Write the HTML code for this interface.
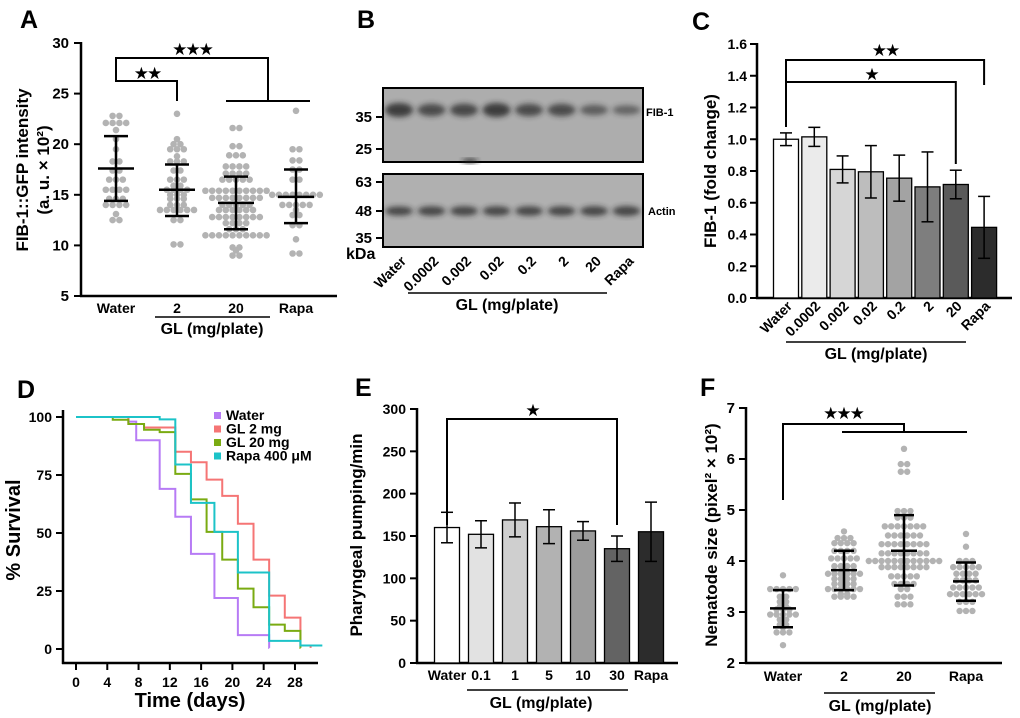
<!DOCTYPE html>
<html><head><meta charset="utf-8"><style>
html,body{margin:0;padding:0;background:#fff}
svg{display:block;font-family:"Liberation Sans",sans-serif;font-weight:bold}
</style></head><body>
<svg id="fig" width="1020" height="718" viewBox="0 0 1020 718" xmlns="http://www.w3.org/2000/svg">
<defs><filter id="blur" x="-20%" y="-50%" width="140%" height="200%"><feGaussianBlur stdDeviation="2.6"/></filter></defs>
</svg>
<script>
// ---------- Panel A data ----------
const aCats=["Water","2","20","Rapa"];
const aWater=[22.8,22.8,22.1,22.1,22.1,22.1,21.4,20.5,19.5,18.3,18.3,17.4,17.4,16.5,16.5,16.5,15.5,15.5,15.5,15.5,14.6,14.6,14.6,14.0,14.0,14.0,14.0,13.1,12.5,12.5];
const aGL2=[23,20.5,20,20,19.5,19.5,19.5,18.8,18.3,18.3,18.3,17.4,17.4,16.5,16.5,16.5,15.9,15.9,15.5,15.5,15.5,15.5,15,15,15,14.6,14.6,14.6,14,14,14,13.5,13.5,13.5,13.5,13.5,13.5,12.5,12.5,10.1,10.1];
const aGL20=[21.6,21.6,19.8,19.8,18.9,18.9,18.9,17.8,17.8,17.8,17.8,17.1,17.1,17.1,17.1,16.5,16.5,16.5,16.5,16.5,15.4,15.4,15.4,15.4,15.4,15.4,15.4,15.4,15.4,15.4,14.7,14.7,14.7,14.7,14.7,14.7,14.7,14.7,14,14,14,14,14,13.5,13.5,13.5,13.5,13.5,13.5,12.8,12.8,12.8,12.8,12.8,12.8,12.8,12.8,12.2,12.2,12.2,12.2,11.6,11.6,11.6,11,11,11,11,11,11,11,11,11,11,9.8,9.8,9.5,9,9];
const aRapa=[23.3,19.5,19.5,18.4,18.4,17.5,17.5,16.5,16.5,15,15,15,15,15,15,15,15,14,14,14,14,14,13.5,13,13,12,12,10.6,9.2,9.2];
const aMean=[17.6,15.5,14.2,14.8];
const aLo=[14.4,12.9,11.6,12.2];
const aHi=[20.8,18.0,16.8,17.5];
const aTicks=[5,10,15,20,25,30];
// ---------- Panel C data ----------
const cCats=["Water","0.0002","0.002","0.02","0.2","2","20","Rapa"];
const cVals=[1.0,1.015,0.81,0.795,0.755,0.70,0.715,0.445];
const cErr=[0.04,0.06,0.085,0.165,0.145,0.22,0.09,0.195];
const cTicks=[0,0.2,0.4,0.6,0.8,1.0,1.2,1.4,1.6];
// ---------- Panel D data ----------
const dSeries=["Water","GL 2 mg","GL 20 mg","Rapa 400 μM"];
const dWaterT=[0,6.7,7.7,10.7,12.7,14.7,17.7,20.7,24.7];
const dWaterS=[100,98,90,69,57,41,22,6,0.5];
const dGL2T=[0,6.7,8.7,12.7,14.7,16.7,18.7,20.7,22.7,24.7,26.7,28.7,30];
const dGL2S=[100,97,95.5,85,80.5,73,66,54,38.5,23,13.5,1.5,0.5];
const dGL20T=[0,4.7,6.7,8.7,10.7,12.7,14.7,16.7,18.7,20.7,22.7,24.7,26.7,28.7];
const dGL20S=[100,98.8,97,94.5,93.5,75.5,64.5,50.5,38.5,26,18,10.5,7.8,0.5];
const dRapaT=[0,10.7,12.7,14.7,17.7,20.7,24.7,28.7,31.5];
const dRapaS=[100,99,79.5,63,50.5,33,3.5,1.5,1.5];
const dXTicks=[0,4,8,12,16,20,24,28];
const dYTicks=[0,25,50,75,100];
// ---------- Panel E data ----------
const eCats=["Water","0.1","1","5","10","30","Rapa"];
const eVals=[160,152,169,161,156,135,155];
const eErr=[18,16,20,20,11,15,35];
const eTicks=[0,50,100,150,200,250,300];
// ---------- Panel F data ----------
const fCats=["Water","2","20","Rapa"];
const fWater=[3.72,3.45,3.45,3.45,3.45,3.45,3.3,3.3,3.2,3.2,3.1,3.1,3.05,3.05,3.05,2.95,2.95,2.95,2.95,2.95,2.85,2.85,2.75,2.75,2.7,2.6,2.6,2.6,2.35];
const fGL2=[4.58,4.45,4.45,4.45,4.35,4.35,4.35,4.35,4.2,4.2,4.2,4.2,4.05,4.05,4.05,4.05,4.05,3.9,3.9,3.9,3.9,3.75,3.75,3.75,3.75,3.75,3.75,3.65,3.65,3.65,3.65,3.55,3.55,3.55,3.55,3.45,3.45,3.45,3.45,3.45,3.45,3.35,3.35,3.3,3.3,3.3,3.3];
const fGL20=[6.2,5.9,5.9,5.75,5.75,4.98,4.98,4.98,4.85,4.85,4.85,4.68,4.68,4.68,4.68,4.68,4.68,4.68,4.5,4.5,4.5,4.5,4.5,4.5,4.33,4.33,4.33,4.33,4.33,4.33,4.33,4.33,4.15,4.15,4.15,4.15,4.15,4.15,4.15,4.15,4.0,4.0,4.0,4.0,4.0,4.0,4.0,4.0,4.0,4.0,4.0,4.0,3.88,3.88,3.88,3.88,3.88,3.88,3.88,3.88,3.7,3.7,3.7,3.7,3.7,3.55,3.55,3.55,3.55,3.45,3.45,3.3,3.3,3.3,3.15,3.15,3.15];
const fRapa=[4.53,4.28,4.0,4.0,4.0,3.88,3.88,3.88,3.88,3.88,3.75,3.75,3.75,3.75,3.62,3.62,3.62,3.62,3.48,3.48,3.48,3.48,3.48,3.35,3.35,3.35,3.35,3.35,3.35,3.2,3.2,3.2,3.02,3.02,3.02];
const fMean=[3.07,3.82,4.2,3.6];
const fLo=[2.7,3.43,3.52,3.22];
const fHi=[3.43,4.2,4.9,3.97];
const fTicks=[2,3,4,5,6,7];
// ---------- Panel B lanes ----------
const bLanes=["Water","0.0002","0.002","0.02","0.2","2","20","Rapa"];
const bFib=[1.0,0.8,0.85,1.0,0.8,0.8,0.55,0.45];
const bActin=[0.85,0.9,0.9,0.9,0.9,0.9,0.95,1.0];

const NS="http://www.w3.org/2000/svg";
const svg=document.getElementById('fig');
function mk(tag,attrs,name,parent){
  const el=document.createElementNS(NS,tag);
  for(const k in attrs) el.setAttribute(k,attrs[k]);
  
  
  (parent||svg).appendChild(el);return el;
}
function ln(x1,y1,x2,y2,w,name,col){return mk('line',{x1,y1,x2,y2,stroke:col||'#000','stroke-width':w||2},name);}
function tx(x,y,s,size,anchor,name,extra){const t=mk('text',Object.assign({x,y,'font-size':size,'text-anchor':anchor||'middle',fill:'#000'},extra||{}),name);t.textContent=s;return t;}
function star(x,y,s,name){return tx(x,y,s,17,'middle',name,{'font-family':'DejaVu Sans','letter-spacing':'-2'});}
function poly(pts,w,name,col){return mk('polyline',{points:pts.map(p=>p.join(',')).join(' '),fill:'none',stroke:col||'#000','stroke-width':w||2},name);}

// ===== Panel A =====
tx(20,28,"A",25,'start','panel-label-a');
const aY=v=>296-(v-5)*(253/25);
const aX=[116,177,236,296];
ln(81,42,81,297,2.5,'a-y-axis');ln(80,296,337,296,2.5,'a-x-axis');
aTicks.forEach(t=>{ln(74,aY(t),81,aY(t),2,'a-y-tick');tx(69,aY(t)+5,String(t),15,'end','a-y-tick-label');});
aCats.forEach((c,i)=>tx(aX[i],313,c,14,'middle','a-x-label'));
ln(155,317,270,317,1.5,'a-gl-line');tx(212,334,"GL (mg/plate)",16,'middle','a-gl-label');
tx(28,170,"FIB-1::GFP intensity",17,'middle','a-y-title',{transform:'rotate(-90 28 170)'});
tx(49,170,"(a. u. × 10²)",17,'middle','a-y-title-2',{transform:'rotate(-90 49 170)'});
function swarm(vals,cx,yf,sp,r,name){
  const groups={};vals.forEach(v=>{const k=Math.round(yf(v));(groups[k]=groups[k]||[]).push(v);});
  for(const k in groups){const n=groups[k].length;groups[k].forEach((v,j)=>{
    mk('circle',{cx:cx+(j-(n-1)/2)*sp,cy:yf(v),r:r,fill:'#b3b3b3'},name);});}
}
[aWater,aGL2,aGL20,aRapa].forEach((arr,i)=>swarm(arr,aX[i],aY,6.8,3.3,'a-dot-'+aCats[i].toLowerCase()));
aCats.forEach((c,i)=>{const x=aX[i];
  ln(x,aY(aLo[i]),x,aY(aHi[i]),2.5,'a-sd-bar');ln(x-18,aY(aMean[i]),x+18,aY(aMean[i]),2.5,'a-mean-line');
  ln(x-12,aY(aLo[i]),x+12,aY(aLo[i]),2.5,'a-sd-cap');ln(x-12,aY(aHi[i]),x+12,aY(aHi[i]),2.5,'a-sd-cap');});
poly([[116,80],[116,58],[268,58],[268,101]],2,'a-sig-bracket-3');ln(226,101,310,101,2,'a-sig-group-line');
poly([[116,80],[116,81],[177,81],[177,101]],2,'a-sig-bracket-2');ln(116,80,116,58,2,'a-sig-stem');
star(192,55,"★★★",'a-sig-stars-3');star(147,79,"★★",'a-sig-stars-2');

// ===== Panel B =====
tx(357,28,"B",25,'start','panel-label-b');
mk('rect',{x:383,y:88,width:260,height:74,fill:'#adadad',stroke:'#000','stroke-width':2},'b-blot-fib1');
mk('rect',{x:383,y:174,width:260,height:73,fill:'#b0b0b0',stroke:'#000','stroke-width':2},'b-blot-actin');
const bLx=i=>399+i*32.5;
bLanes.forEach((l,i)=>{
  mk('ellipse',{cx:bLx(i),cy:110,rx:14,ry:3+4*bFib[i],fill:'#222',opacity:0.3+0.5*bFib[i],filter:'url(#blur)'},'b-band-fib1');
  mk('ellipse',{cx:bLx(i),cy:211,rx:14,ry:2+3*bActin[i],fill:'#222',opacity:0.75,filter:'url(#blur)'},'b-band-actin');
  tx(bLx(i)+8,262,l,14,'end','b-lane-label',{transform:`rotate(-45 ${bLx(i)+8} 262)`});
});
mk('ellipse',{cx:470,cy:161,rx:8,ry:2,fill:'#222',filter:'url(#blur)'},'b-artifact');
[[35,117],[25,149],[63,182],[48,211],[35,238]].forEach(m=>{ln(376,m[1],383,m[1],2,'b-marker-tick');tx(372,m[1]+5,String(m[0]),15,'end','b-marker-label');});
tx(346,259,"kDa",16,'start','b-kda-label');
tx(646,116,"FIB-1",11,'start','b-fib1-label');tx(648,215,"Actin",11,'start','b-actin-label');
ln(408,293,607,293,1.5,'b-gl-line');tx(507,310,"GL (mg/plate)",16,'middle','b-gl-label');

// ===== Panel C =====
tx(692,30,"C",25,'start','panel-label-c');
const cY=v=>298-v*(254/1.6);const cX=i=>786+i*28.3;
ln(757,43,757,299,2.5,'c-y-axis');ln(756,298,1012,298,2.5,'c-x-axis');
cTicks.forEach(t=>{ln(750,cY(t),757,cY(t),2,'c-y-tick');tx(747,cY(t)+5,t.toFixed(1),14,'end','c-y-tick-label');});
tx(716,171,"FIB-1 (fold change)",17,'middle','c-y-title',{transform:'rotate(-90 716 171)'});
const cCol=['#ffffff','#ebebeb','#d6d6d6','#bdbdbd','#a3a3a3','#7e7e7e','#5a5a5a','#2c2c2c'];
cCats.forEach((c,i)=>{const x=cX(i);
  mk('rect',{x:x-12.5,y:cY(cVals[i]),width:25,height:298-cY(cVals[i]),fill:cCol[i],stroke:'#000','stroke-width':1.3},'c-bar-'+c);
  ln(x,cY(cVals[i]-cErr[i]),x,cY(cVals[i]+cErr[i]),1.5,'c-error-bar');
  ln(x-6,cY(cVals[i]-cErr[i]),x+6,cY(cVals[i]-cErr[i]),1.5,'c-error-cap');ln(x-6,cY(cVals[i]+cErr[i]),x+6,cY(cVals[i]+cErr[i]),1.5,'c-error-cap');
  tx(x+7,307,c,14,'end','c-x-label',{transform:`rotate(-45 ${x+7} 307)`});
});
poly([[cX(0),127],[cX(0),60],[cX(7),60],[cX(7),85]],2,'c-sig-bracket-rapa');
poly([[cX(0),82],[cX(6),82],[cX(6),164]],2,'c-sig-bracket-20');
star(885,56,"★★",'c-sig-stars-2');star(871,80,"★",'c-sig-star-1');
ln(786,342,966,342,1.5,'c-gl-line');tx(876,359,"GL (mg/plate)",16,'middle','c-gl-label');

// ===== Panel D =====
tx(17,398,"D",25,'start','panel-label-d');
const dX=t=>76+t*7.82;const dY=s=>649-s*2.32;
ln(63,410,63,664,2.5,'d-y-axis');ln(62,663,318,663,2.5,'d-x-axis');
dYTicks.forEach(t=>{ln(56,dY(t),63,dY(t),2,'d-y-tick');tx(52,dY(t)+5,String(t),14,'end','d-y-tick-label');});
dXTicks.forEach(t=>{ln(dX(t),663,dX(t),670,2,'d-x-tick');tx(dX(t),687,String(t),14,'middle','d-x-tick-label');});
tx(190,707,"Time (days)",20,'middle','d-x-title');
tx(20,530,"% Survival",20,'middle','d-y-title',{transform:'rotate(-90 20 530)'});
const dCol=['#b77bf5','#f57575','#7aab12','#1cc3c8'];
[[dWaterT,dWaterS],[dGL2T,dGL2S],[dGL20T,dGL20S],[dRapaT,dRapaS]].forEach((s,k)=>{
  const T=s[0],S=s[1];const pts=[];
  for(let i=0;i<T.length;i++){if(i>0)pts.push([dX(T[i]),dY(S[i-1])]);pts.push([dX(T[i]),dY(S[i])]);}
  if(T[T.length-1]<29)pts.push([dX(T[T.length-1])+0.1,dY(S[S.length-1])]);
  poly(pts,2,'d-curve-'+dSeries[k].split(' ')[0].toLowerCase()+k,dCol[k]);
});
dSeries.forEach((s,k)=>{mk('rect',{x:214,y:412+k*13.5,width:7,height:7,fill:dCol[k]},'d-legend-swatch');
  tx(226,420+k*13.5,s,14,'start','d-legend-entry');});

// ===== Panel E =====
tx(355,396,"E",25,'start','panel-label-e');
const eY=v=>663-v*(254/300);const eX=i=>447+i*34;
ln(417,408,417,664,2.5,'e-y-axis');ln(416,663,678,663,2.5,'e-x-axis');
eTicks.forEach(t=>{ln(410,eY(t),417,eY(t),2,'e-y-tick');tx(406,eY(t)+5,String(t),14,'end','e-y-tick-label');});
tx(362,535,"Pharyngeal pumping/min",17,'middle','e-y-title',{transform:'rotate(-90 362 535)'});
const eCol=['#ffffff','#e2e2e2','#cfcfcf','#b2b2b2','#9c9c9c','#636363','#2c2c2c'];
eCats.forEach((c,i)=>{const x=eX(i);
  mk('rect',{x:x-12.5,y:eY(eVals[i]),width:25,height:663-eY(eVals[i]),fill:eCol[i],stroke:'#000','stroke-width':1.3},'e-bar-'+c);
  ln(x,eY(eVals[i]-eErr[i]),x,eY(eVals[i]+eErr[i]),1.5,'e-error-bar');
  ln(x-6,eY(eVals[i]-eErr[i]),x+6,eY(eVals[i]-eErr[i]),1.5,'e-error-cap');ln(x-6,eY(eVals[i]+eErr[i]),x+6,eY(eVals[i]+eErr[i]),1.5,'e-error-cap');
  tx(x,680,c,14,'middle','e-x-label');});
poly([[eX(0),525],[eX(0),419],[eX(5),419],[eX(5),525]],2,'e-sig-bracket');
star(532,416,"★",'e-sig-star');
ln(467,690,628,690,1.5,'e-gl-line');tx(541,708,"GL (mg/plate)",16,'middle','e-gl-label');

// ===== Panel F =====
tx(700,396,"F",25,'start','panel-label-f');
const fY=v=>663-(v-2)*(255/5);const fX=[783,844,904,966];
ln(746,407,746,664,2.5,'f-y-axis');ln(745,663,1002,663,2.5,'f-x-axis');
fTicks.forEach(t=>{ln(739,fY(t),746,fY(t),2,'f-y-tick');tx(735,fY(t)+5,String(t),15,'end','f-y-tick-label');});
tx(717,535,"Nematode size (pixel² × 10²)",17,'middle','f-y-title',{transform:'rotate(-90 717 535)'});
[fWater,fGL2,fGL20,fRapa].forEach((arr,i)=>swarm(arr,fX[i],fY,6.4,3.2,'f-dot-'+fCats[i].toLowerCase()));
fCats.forEach((c,i)=>{const x=fX[i];
  ln(x,fY(fLo[i]),x,fY(fHi[i]),2.5,'f-sd-bar');ln(x-13,fY(fMean[i]),x+13,fY(fMean[i]),2.5,'f-mean-line');
  ln(x-10,fY(fLo[i]),x+10,fY(fLo[i]),2.5,'f-sd-cap');ln(x-10,fY(fHi[i]),x+10,fY(fHi[i]),2.5,'f-sd-cap');
  tx(x,681,c,14,'middle','f-x-label');});
poly([[783,500],[783,424],[904,424],[904,432]],2,'f-sig-bracket');ln(842,432,967,432,2,'f-sig-group-line');
star(843,419,"★★★",'f-sig-stars');
ln(824,693,935,693,1.5,'f-gl-line');tx(880,711,"GL (mg/plate)",16,'middle','f-gl-label');
</script>
</body></html>
